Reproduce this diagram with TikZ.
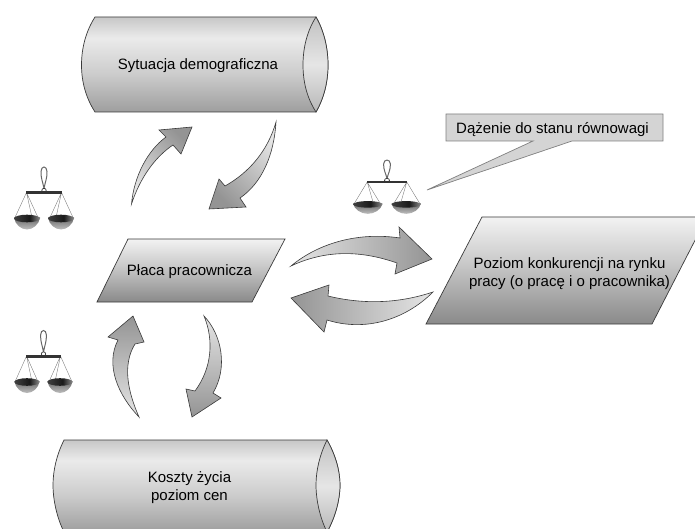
\documentclass[tikz,border=0pt]{standalone}
\usepackage{fontspec}
\setmainfont{Liberation Sans}
\definecolor{edgec}{HTML}{3A3A3A}
\pgfdeclareverticalshading{cylshade}{100bp}{color(0bp)=(black!38);color(25bp)=(black!38);color(45bp)=(black!20);color(64bp)=(black!8);color(75bp)=(black!22);color(100bp)=(black!22)}
\pgfdeclareverticalshading{lensshade}{100bp}{color(0bp)=(black!28);color(25bp)=(black!28);color(50bp)=(black!10);color(75bp)=(black!24);color(100bp)=(black!24)}
\pgfdeclareverticalshading{paraShade}{100bp}{color(0bp)=(black!46);color(25bp)=(black!46);color(55bp)=(black!20);color(75bp)=(black!5);color(100bp)=(black!5)}
\pgfdeclareverticalshading{panShade}{100bp}{color(0bp)=(black!25);color(25bp)=(black!25);color(75bp)=(black!60);color(100bp)=(black!60)}
\pgfdeclarehorizontalshading{panTop}{100bp}{color(0bp)=(black!75);color(25bp)=(black!75);color(55bp)=(black!90);color(75bp)=(black!45);color(100bp)=(black!45)}
\tikzset{
  cyl/.style={draw=edgec,line width=0.7pt,shading=cylshade},
  lens/.style={draw=edgec,line width=0.7pt,shading=lensshade},
  para/.style={draw=edgec,line width=0.7pt,shading=paraShade},
  blockarrow/.style={draw=edgec,line width=0.6pt,bottom color=black!42,top color=black!10,shading angle=#1},
  label/.style={align=center,font=\fontsize{15}{18}\selectfont,inner sep=0pt},
  callout/.style={draw=black!50,line width=0.7pt,fill=black!17},
  wirec/.style={draw=black!55,line width=0.35pt},
  balance/.pic={
    \draw[black!60,line width=1pt] (0,-4) .. controls (-1,-10) and (-3.2,-14) .. (-3,-21) .. controls (-2.8,-27) and (2.8,-27) .. (3,-21) .. controls (3.2,-14) and (1,-10) .. (0,-4);
    \draw[black!80,line width=0.7pt,fill=white] (0,-2) circle (2.2);
    \draw[wirec] (-17.5,0) -- (-29,25) (-17.5,0) -- (-6,25) (-17.5,0) -- (-12,25);
    \draw[wirec] (17.5,0) -- (29,25) (17.5,0) -- (6,25) (17.5,0) -- (12,25);
    \fill[black!80] (-18,-1.5) rectangle (18,1.5);
    \foreach \cx in {-17,17}{
      \begin{scope}[shift={(\cx,25)}]
        \shade[shading=panShade] (-13,0) .. controls (-12,7) and (-6,12) .. (0,12) .. controls (6,12) and (12,7) .. (13,0) -- cycle;
        \shade[shading=panTop] (0,1) ellipse (13 and 3.8);
      \end{scope}
    }
  }
}
\begin{document}
\begin{tikzpicture}[x=1pt,y=-1pt]
\useasboundingbox (0,0) rectangle (695,529);
% top cylinder
\path[cyl] (95,17) -- (316,17) .. controls (324,31) and (328,48) .. (328,65) .. controls (328,82) and (324,98) .. (316,112) -- (95,112) .. controls (86,98) and (81.5,82) .. (81.5,65) .. controls (81.5,48) and (86,31) .. (95,17) -- cycle;
\path[lens] (316,17) .. controls (324,31) and (328,48) .. (328,65) .. controls (328,82) and (324,98) .. (316,112) .. controls (307,98) and (303,82) .. (303,65) .. controls (303,48) and (307,31) .. (316,17) -- cycle;
\node[label] (demo) at (198,66) {Sytuacja demograficzna};
% bottom cylinder
\path[cyl] (64,440) -- (327,440) .. controls (335,454) and (340,470) .. (340,485) .. controls (340,500) and (335,518) .. (327,532) -- (64,532) .. controls (57,518) and (53,500) .. (53,485) .. controls (53,470) and (57,454) .. (64,440) -- cycle;
\path[lens] (327,440) .. controls (335,454) and (340,470) .. (340,485) .. controls (340,500) and (335,518) .. (327,532) .. controls (320,518) and (316,500) .. (316,485) .. controls (316,470) and (320,454) .. (327,440) -- cycle;
\node[label] (koszty) at (189.5,488) {Koszty życia\\poziom cen};
% parallelograms
\path[para] (128,239) -- (285,239) -- (252,302) -- (97,302) -- cycle;
\node[label] (placa) at (189.5,272) {Płaca pracownicza};
\path[para] (482,217) -- (707,217) -- (652,324) -- (426,324) -- cycle;
\node[label] (rynek) at (569.5,274) {Poziom konkurencji na rynku\\pracy (o pracę i o pracownika)};
% callout
\path[callout] (533,141) -- (446,141) -- (446,114) -- (663,114) -- (663,141) -- (572,141) -- (427,190) -- cycle;
\node[label] (dazenie) at (552.5,129.5) {Dążenie do stanu równowagi};
% block arrows
\path[blockarrow=135] (131.5,204) .. controls (134,176) and (148,150) .. (166,137) -- (159,130) -- (192,127) -- (181,154) -- (173,145) .. controls (155,157) and (140,178) .. (131.5,204) -- cycle;
\path[blockarrow=-45] (276,122) .. controls (274,155) and (262,183) .. (240,198) -- (246,207) -- (209,209) -- (219,179) -- (225,186) .. controls (250,172) and (268,150) .. (276,122) -- cycle;
\path[blockarrow=90] (291,266) .. controls (320,242) and (360,232) .. (400,238) -- (399,227) -- (432,259) -- (395,274) -- (397,263) .. controls (360,250) and (325,250) .. (291,266) -- cycle;
\path[blockarrow=-90] (433,292) .. controls (400,303) and (365,305) .. (328,296) -- (329,285) -- (291,298) -- (324,332) -- (327,320) .. controls (365,332) and (405,320) .. (433,292) -- cycle;
\path[blockarrow=180] (139,417) .. controls (118,395) and (105,365) .. (118,340) -- (108,337) -- (133,316) -- (144,342) -- (135,344) .. controls (122,365) and (128,392) .. (139,417) -- cycle;
\path[blockarrow=0] (204,316) .. controls (222,335) and (228,368) .. (213,393) -- (221,398) -- (192,417) -- (186,389) -- (195,391) .. controls (212,368) and (214,340) .. (204,316) -- cycle;
% balances
\pic at (44,192.5) {balance};
\pic[xscale=0.97] at (43.5,356) {balance};
\pic[xscale=1.13,yscale=0.86] at (387,182) {balance};
\end{tikzpicture}
\end{document}
